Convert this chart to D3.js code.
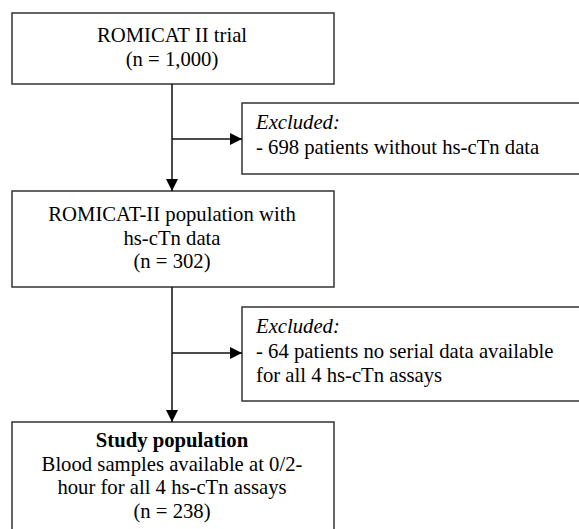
<!DOCTYPE html>
<html>
<head>
<meta charset="utf-8">
<script src="https://cdn.jsdelivr.net/npm/d3@7"></script>
<style>
	body { margin: 0; background: #fff; }
	svg text { font-family: "Liberation Serif", "Times New Roman", serif; font-size: 20.7px; fill: #000; }
</style>
</head>
<body>
<div id="flow"></div>
<script>
// Flow of patients through the study
var stepHeads = [null, null, "Study population"];
var stepLines = [
	["ROMICAT II trial"],
	["ROMICAT-II population with", "hs-cTn data"],
	["Blood samples available at 0/2-", "hour for all 4 hs-cTn assays"]
];
var stepCounts = [1000, 302, 238];
var excludedCounts = [698, 64];
var excludedReasons = [
	["patients without hs-cTn data"],
	["patients no serial data available", "for all 4 hs-cTn assays"]
];

var fmt = d3.format(",");
var lineH = 23.5;

// Box geometry (layout only)
var mainX = 12, mainW = 322, midX = 172;
var steps = [
	{ top: 13, bottom: 84, base: 42 },
	{ top: 191, bottom: 287, base: 221 },
	{ top: 422, bottom: 545, base: 447 }
];
var excl = [
	{ top: 103, bottom: 174, base: 129, arrowY: 139 },
	{ top: 307, bottom: 401, base: 333, arrowY: 353 }
];
var exclX = 242, textX = 256;

var svg = d3.select('#flow').append('svg')
	.attr('width', 579).attr('height', 529);

svg.append('defs').append('marker')
	.attr('id', 'arrow').attr('viewBox', '0 0 12 12')
	.attr('refX', 12).attr('refY', 6)
	.attr('markerWidth', 12).attr('markerHeight', 12)
	.attr('markerUnits', 'userSpaceOnUse').attr('orient', 'auto')
	.append('path').attr('d', 'M0,0 L12,6 L0,12 Z').attr('fill', '#000');

var stroke = '#333', sw = 1.5;

// Main boxes
steps.forEach(function(s, i) {
	svg.append('rect')
		.attr('x', mainX).attr('y', s.top)
		.attr('width', mainW).attr('height', s.bottom - s.top)
		.attr('fill', 'none').attr('stroke', stroke).attr('stroke-width', sw);
	var lines = stepLines[i].concat(['(n = ' + fmt(stepCounts[i]) + ')']);
	var t = svg.append('text').attr('text-anchor', 'middle');
	var row = 0;
	if (stepHeads[i]) {
		t.append('tspan').attr('x', midX).attr('y', s.base)
			.style('font-weight', 'bold').text(stepHeads[i]);
		row = 1;
	}
	lines.forEach(function(l, j) {
		t.append('tspan').attr('x', midX).attr('y', s.base + (row + j) * lineH).text(l);
	});
});

// Vertical connectors
for (var i = 0; i < steps.length - 1; i++) {
	svg.append('line')
		.attr('x1', midX).attr('y1', steps[i].bottom)
		.attr('x2', midX).attr('y2', steps[i + 1].top)
		.attr('stroke', '#111').attr('stroke-width', sw)
		.attr('marker-end', 'url(#arrow)');
}

// Exclusion boxes and side arrows
excl.forEach(function(e, i) {
	svg.append('rect')
		.attr('x', exclX).attr('y', e.top)
		.attr('width', 360).attr('height', e.bottom - e.top)
		.attr('fill', 'none').attr('stroke', stroke).attr('stroke-width', sw);
	svg.append('line')
		.attr('x1', midX).attr('y1', e.arrowY)
		.attr('x2', exclX).attr('y2', e.arrowY)
		.attr('stroke', '#111').attr('stroke-width', sw)
		.attr('marker-end', 'url(#arrow)');
	var t = svg.append('text');
	t.append('tspan').attr('x', textX).attr('y', e.base)
		.style('font-style', 'italic').text('Excluded:');
	excludedReasons[i].forEach(function(l, j) {
		t.append('tspan').attr('x', textX).attr('y', e.base + (j + 1) * 24.5)
			.text(j === 0 ? '- ' + excludedCounts[i] + ' ' + l : l);
	});
});
</script>
</body>
</html>
